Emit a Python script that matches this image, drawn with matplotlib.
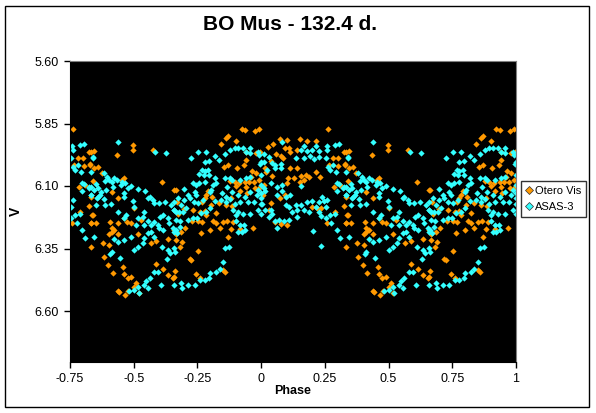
import matplotlib
matplotlib.use("Agg")
import matplotlib.pyplot as plt
from matplotlib.patches import Rectangle

plt.rcParams['font.family'] = ['Liberation Sans', 'DejaVu Sans']

# phase in [0, 1) and V magnitude
otero_phase = [
    0.262, 0.073, 0.102, 0.151, 0.181, 0.214, 0.047, 0.026, 0.092, 0.109,
    0.139, 0.115, 0.060, 0.076, 0.087, 0.302, 0.280, 0.332, 0.037, 0.266,
    0.303, 0.329, 0.017, 0.115, 0.142, 0.021, 0.043, 0.155, 0.175, 0.188,
    0.214, 0.231, 0.168, 0.152, 0.129, 0.105, 0.100, 0.010, 0.286, 0.310,
    0.332, 0.008, 0.037, 0.030, 0.093, 0.073, 0.234, 0.289, 0.336, 0.102,
    0.257, 0.332, 0.056, 0.076, 0.201, 0.220,
    0.325, 0.343, 0.434, 0.496, 0.496, 0.575, 0.329, 0.343, 0.361, 0.374,
    0.339, 0.463, 0.453, 0.610, 0.657, 0.413, 0.440, 0.325, 0.339, 0.332,
    0.352, 0.408, 0.440, 0.461, 0.490, 0.474, 0.529, 0.503, 0.424, 0.413,
    0.404, 0.440, 0.413, 0.378, 0.404, 0.332, 0.518, 0.566, 0.588, 0.634,
    0.667, 0.382, 0.398, 0.417, 0.457, 0.463, 0.490, 0.476, 0.588, 0.614,
    0.663, 0.634, 0.654, 0.509, 0.503, 0.440, 0.444, 0.479, 0.466, 0.519,
    0.923, 0.936, 0.975, 0.992, 0.870, 0.861, 0.903, 0.844, 0.942, 0.997,
    0.979, 0.940, 0.933, 0.870, 0.853, 0.906, 0.966, 0.979, 0.962, 0.992,
    0.879, 0.896, 0.913, 0.936, 0.953, 0.971, 0.900, 0.940, 0.975, 0.997,
    0.916, 0.664, 0.791, 0.785, 0.808, 0.778, 0.945, 0.883, 0.769, 0.805,
    0.835, 0.861, 0.887, 0.669, 0.699, 0.732, 0.759, 0.778, 0.785, 0.673,
    0.824, 0.811, 0.822, 0.850, 0.866, 0.890, 0.730, 0.752, 0.769, 0.837,
    0.883, 0.916, 0.969, 0.660, 0.703, 0.686, 0.765, 0.798, 0.870, 0.667,
    0.690, 0.682, 0.752, 0.719, 0.726, 0.745, 0.759, 0.850, 0.857, 0.660,
]
otero_mag = [
    5.872, 5.912, 5.916, 5.912, 5.920, 5.920, 5.933, 5.943, 5.947, 5.947,
    5.956, 5.965, 5.973, 5.979, 5.987, 5.989, 5.987, 5.963, 6.000, 6.016,
    6.019, 6.016, 6.029, 6.029, 6.027, 6.045, 6.059, 6.060, 6.056, 6.063,
    6.045, 6.063, 6.076, 6.083, 6.067, 6.069, 6.089, 6.096, 6.103, 6.096,
    6.143, 6.136, 6.169, 6.196, 6.136, 6.147, 6.189, 6.203, 6.216, 6.256,
    6.249, 6.249, 6.243, 6.253, 6.183, 6.187,
    5.963, 5.960, 5.976, 5.936, 5.956, 5.956, 6.013, 6.027, 6.023, 6.049,
    6.080, 6.067, 6.076, 6.083, 6.116, 6.123, 6.149, 6.179, 6.216, 6.249,
    6.249, 6.245, 6.249, 6.229, 6.249, 6.243, 6.236, 6.189, 6.276, 6.283,
    6.293, 6.293, 6.269, 6.329, 6.336, 6.343, 6.293, 6.329, 6.320, 6.312,
    6.293, 6.383, 6.416, 6.449, 6.423, 6.453, 6.463, 6.469, 6.413, 6.432,
    6.440, 6.456, 6.467, 6.489, 6.503, 6.520, 6.523, 6.520, 6.536, 6.529,
    5.872, 5.876, 5.880, 5.872, 5.899, 5.909, 5.920, 5.933, 5.963, 5.965,
    5.967, 5.996, 6.016, 6.016, 6.023, 6.029, 6.040, 6.049, 6.063, 6.076,
    6.080, 6.085, 6.089, 6.083, 6.083, 6.085, 6.099, 6.103, 6.107, 6.103,
    6.120, 6.116, 6.120, 6.136, 6.143, 6.147, 6.129, 6.149, 6.165, 6.176,
    6.169, 6.176, 6.179, 6.165, 6.192, 6.196, 6.203, 6.200, 6.216, 6.213,
    6.209, 6.240, 6.249, 6.245, 6.240, 6.243, 6.240, 6.240, 6.245, 6.267,
    6.272, 6.272, 6.267, 6.276, 6.269, 6.283, 6.289, 6.276, 6.303, 6.316,
    6.323, 6.343, 6.360, 6.392, 6.396, 6.453, 6.467, 6.436, 6.445, 6.463,
]

asas_phase = [
    0.083, 0.168, 0.214, 0.257, 0.306, 0.290, 0.201, 0.227, 0.260, 0.155,
    0.181, 0.135, 0.168, 0.227, 0.253, 0.207, 0.192, 0.010, 0.030, 0.013,
    0.043, 0.056, 0.079, 0.079, 0.056, 0.024, 0.262, 0.270, 0.293, 0.283,
    0.297, 0.306, 0.323, 0.332, 0.299, 0.332, 0.010, 0.017, 0.037, 0.063,
    0.083, 0.083, 0.063, 0.096, 0.115, 0.155, 0.135, 0.155, 0.181, 0.201,
    0.227, 0.247, 0.240, 0.260, 0.253, 0.214, 0.188, 0.168, 0.142, 0.122,
    0.109, 0.096, 0.004, 0.017, 0.037, 0.043, 0.030, 0.056, 0.070, 0.089,
    0.109, 0.063, 0.142, 0.227, 0.234, 0.253, 0.276, 0.297, 0.205, 0.310,
    0.234, 0.270, 0.289,
    0.440, 0.585, 0.627, 0.339, 0.339, 0.332, 0.382, 0.395, 0.404, 0.424,
    0.434, 0.453, 0.387, 0.413, 0.352, 0.358, 0.325, 0.345, 0.371, 0.391,
    0.417, 0.450, 0.466, 0.490, 0.476, 0.516, 0.545, 0.361, 0.369, 0.385,
    0.356, 0.332, 0.352, 0.387, 0.411, 0.463, 0.463, 0.496, 0.503, 0.555,
    0.575, 0.562, 0.601, 0.581, 0.623, 0.647, 0.657, 0.667, 0.614, 0.634,
    0.605, 0.542, 0.535, 0.555, 0.581, 0.594, 0.601, 0.568, 0.614, 0.640,
    0.654, 0.660, 0.568, 0.555, 0.539, 0.516, 0.509, 0.470, 0.461, 0.437,
    0.461, 0.490, 0.516, 0.500, 0.535, 0.542, 0.581, 0.610, 0.634, 0.644,
    0.631, 0.663, 0.437, 0.424, 0.413, 0.408, 0.447, 0.343, 0.579, 0.594,
    0.562, 0.549, 0.539, 0.516, 0.503, 0.483, 0.522, 0.608, 0.658, 0.555,
    0.752, 0.785, 0.726, 0.818, 0.857, 0.877, 0.896, 0.909, 0.929, 0.942,
    0.955, 0.958, 0.989, 0.992, 1.000, 0.997, 0.835, 0.795, 0.778, 0.769,
    0.778, 0.791, 0.756, 0.774, 0.795, 0.818, 0.732, 0.743, 0.756, 0.778,
    0.811, 0.824, 0.857, 0.877, 0.887, 0.916, 0.942, 0.955, 1.000, 1.000,
    0.989, 0.982, 1.000, 1.000, 0.955, 0.936, 0.910, 0.887, 0.866, 0.848,
    0.864, 0.877, 0.896, 0.916, 0.949, 0.971, 1.000, 0.989, 1.000, 0.955,
    0.929, 0.909, 0.890, 0.864, 0.844, 0.805, 0.798, 0.699, 0.713, 0.719,
    0.699, 0.673, 0.660, 0.686, 0.706, 0.693, 0.677, 0.660, 0.667, 0.682,
    0.713, 0.732, 0.748, 0.765, 0.785, 0.798, 0.818, 0.745, 0.735, 0.752,
    0.772, 0.739, 0.903, 0.900, 0.916, 0.932, 0.923, 0.910, 0.936, 0.874,
    0.857, 0.850, 0.837, 0.824, 0.801, 0.795, 0.778, 0.759, 0.739, 0.713,
    0.686, 0.690, 0.660, 0.664, 0.680, 0.669,
]
asas_mag = [
    5.925, 5.939, 5.939, 5.939, 5.932, 5.936, 5.956, 5.960, 5.956, 5.956,
    5.960, 5.987, 5.987, 5.983, 5.989, 5.992, 5.979, 5.973, 5.983, 6.005,
    6.009, 6.016, 6.013, 6.027, 6.029, 6.036, 6.023, 6.036, 6.045, 6.016,
    6.089, 6.093, 6.107, 6.103, 6.120, 6.136, 6.107, 6.120, 6.089, 6.103,
    6.096, 6.120, 6.136, 6.143, 6.136, 6.099, 6.176, 6.176, 6.163, 6.160,
    6.165, 6.160, 6.143, 6.156, 6.183, 6.183, 6.203, 6.196, 6.196, 6.203,
    6.183, 6.176, 6.173, 6.196, 6.196, 6.213, 6.223, 6.240, 6.236, 6.240,
    6.236, 6.269, 6.223, 6.203, 6.219, 6.229, 6.249, 6.276, 6.280, 6.309,
    6.339, 6.216, 6.212,
    5.923, 5.965, 5.969, 5.983, 5.989, 6.043, 6.049, 6.063, 6.076, 6.067,
    6.076, 6.083, 6.080, 6.083, 6.093, 6.109, 6.103, 6.116, 6.123, 6.116,
    6.103, 6.096, 6.089, 6.100, 6.107, 6.112, 6.120, 6.143, 6.136, 6.152,
    6.149, 6.136, 6.176, 6.176, 6.173, 6.129, 6.143, 6.160, 6.183, 6.149,
    6.156, 6.143, 6.169, 6.169, 6.163, 6.176, 6.196, 6.203, 6.216, 6.229,
    6.223, 6.203, 6.223, 6.240, 6.243, 6.256, 6.269, 6.256, 6.276, 6.249,
    6.269, 6.283, 6.283, 6.289, 6.256, 6.227, 6.256, 6.216, 6.229, 6.203,
    6.316, 6.303, 6.343, 6.356, 6.329, 6.309, 6.303, 6.343, 6.356, 6.369,
    6.392, 6.363, 6.323, 6.312, 6.363, 6.373, 6.389, 6.303, 6.445, 6.445,
    6.467, 6.480, 6.496, 6.503, 6.516, 6.520, 6.529, 6.496, 6.496, 6.507,
    5.963, 5.965, 5.987, 5.979, 5.973, 5.956, 5.947, 5.949, 5.949, 5.963,
    5.949, 5.969, 5.965, 5.976, 6.003, 6.013, 5.996, 6.000, 6.003, 6.036,
    6.040, 6.036, 6.053, 6.056, 6.056, 6.067, 6.089, 6.096, 6.089, 6.083,
    6.096, 6.089, 6.067, 6.067, 6.076, 6.076, 6.069, 6.063, 6.056, 6.096,
    6.116, 6.136, 6.129, 6.147, 6.123, 6.143, 6.136, 6.125, 6.103, 6.129,
    6.143, 6.152, 6.173, 6.165, 6.165, 6.163, 6.173, 6.196, 6.213, 6.213,
    6.213, 6.203, 6.196, 6.163, 6.156, 6.116, 6.125, 6.112, 6.136, 6.149,
    6.156, 6.147, 6.163, 6.176, 6.189, 6.205, 6.205, 6.196, 6.236, 6.240,
    6.236, 6.229, 6.227, 6.209, 6.203, 6.189, 6.160, 6.136, 6.165, 6.169,
    6.156, 6.123, 6.216, 6.240, 6.256, 6.256, 6.285, 6.285, 6.276, 6.343,
    6.349, 6.405, 6.432, 6.443, 6.449, 6.467, 6.476, 6.476, 6.496, 6.496,
    6.489, 6.509, 6.349, 6.276, 6.263, 6.289,
]

x_ticks = [-0.75, -0.5, -0.25, 0, 0.25, 0.5, 0.75, 1]
x_labels = ['-0.75', '-0.5', '-0.25', '0', '0.25', '0.5', '0.75', '1']
y_ticks = [5.60, 5.85, 6.10, 6.35, 6.60]


def fold(phase, mag):
    # the chart repeats the cycle from phase -0.75 to 1
    xs, ys = [], []
    for p, m in zip(phase, mag):
        xs.append(p)
        ys.append(m)
        if p - 1 >= -0.75:
            xs.append(p - 1)
            ys.append(m)
    return xs, ys


fig = plt.figure(figsize=(5.96, 4.13), dpi=100)
fig.patches.append(Rectangle((5 / 596, 6 / 413), 584 / 596, 401 / 413,
                             transform=fig.transFigure, fill=False,
                             edgecolor='black', linewidth=1.0))

ax = fig.add_axes([70 / 596, 1 - 362 / 413, 446 / 596, 301 / 413])
ax.set_facecolor('black')

ox, oy = fold(otero_phase, otero_mag)
cx, cy = fold(asas_phase, asas_mag)
ax.plot(ox, oy, linestyle='none', marker='D', ms=3.2, mew=0,
        color='#FF9900', label='Otero Vis')
ax.plot(cx, cy, linestyle='none', marker='D', ms=3.2, mew=0,
        color='#33FFFF', label='ASAS-3')

ax.set_xlim(-0.75, 1)
ax.set_ylim(6.804, 5.60)
ax.set_xticks(x_ticks)
ax.set_xticklabels(x_labels)
ax.set_yticks(y_ticks)
ax.set_yticklabels(['%.2f' % v for v in y_ticks])
ax.tick_params(direction='out', length=4, width=1, colors='black',
               labelsize=9, pad=4)
for side in ['top', 'right']:
    ax.spines[side].set_color('#808080')
for side in ['left', 'bottom']:
    ax.spines[side].set_color('black')

ax.set_xlabel('Phase', fontsize=9, fontweight='bold', labelpad=0)
ax.set_ylabel('V', fontsize=10, fontweight='bold', labelpad=8)

fig.text(290 / 596, 1 - 24 / 413, 'BO Mus - 132.4 d.', ha='center', va='center',
         fontsize=15, fontweight='bold')

leg = fig.legend(loc='center left', bbox_to_anchor=(521 / 596, 1 - 199 / 413),
                 fontsize=8, frameon=True, fancybox=False, borderpad=0.4,
                 handlelength=0.6, handletextpad=0.3, labelspacing=0.6,
                 borderaxespad=0)
leg.get_frame().set_edgecolor('black')
leg.get_frame().set_linewidth(1.0)
for h in leg.legend_handles:
    h.set_markersize(4)
    h.set_markeredgecolor('#333333')
    h.set_markeredgewidth(0.5)

fig.savefig('out.png', dpi=100)
